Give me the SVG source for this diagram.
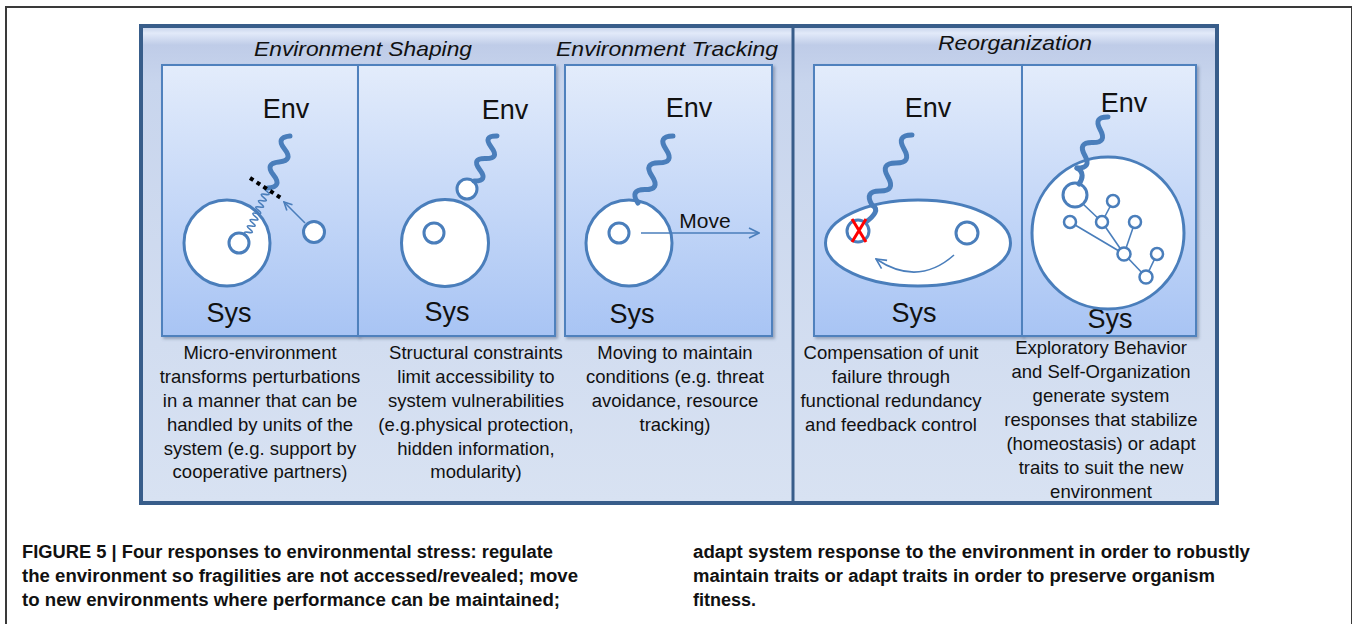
<svg xmlns="http://www.w3.org/2000/svg" width="1352" height="624" viewBox="0 0 1352 624">
<defs>
<linearGradient id="frameG" x1="0" y1="0" x2="0" y2="1">
<stop offset="0" stop-color="#c2cfe9"/>
<stop offset="0.015" stop-color="#e2eaf9"/>
<stop offset="0.04" stop-color="#bfcce8"/>
<stop offset="0.12" stop-color="#c8d5ed"/>
<stop offset="1" stop-color="#d8e2f2"/>
</linearGradient>
<linearGradient id="panelG" x1="0" y1="0" x2="0" y2="1">
<stop offset="0" stop-color="#e3ecfb"/>
<stop offset="1" stop-color="#a8c4f4"/>
</linearGradient>
<filter id="sh" x="-5%" y="-5%" width="115%" height="115%">
<feDropShadow dx="2" dy="2" stdDeviation="1.5" flood-color="#4a5a78" flood-opacity="0.45"/>
</filter>
<marker id="arr" viewBox="0 0 12 12" refX="11" refY="6" markerWidth="12" markerHeight="12" orient="auto" markerUnits="userSpaceOnUse">
<path d="M1,1 L11,6 L1,11" fill="none" stroke="#4a7ebb" stroke-width="1.6"/>
</marker>
<marker id="arrS" viewBox="0 0 10 10" refX="9" refY="5" markerWidth="10" markerHeight="10" orient="auto" markerUnits="userSpaceOnUse">
<path d="M1,1 L9,5 L1,9" fill="none" stroke="#4a7ebb" stroke-width="1.6"/>
</marker>
</defs>
<style>
.panel{fill:url(#panelG);stroke:#4f81bd;stroke-width:2;}
.circ{fill:#ffffff;stroke:#4a7ebb;stroke-width:3;}
.node{fill:#ffffff;stroke:#4a7ebb;stroke-width:2.5;}
.wave{fill:none;stroke:#4a7ebb;stroke-width:5;stroke-linecap:round;stroke-linejoin:round;}
.thin{fill:none;stroke:#4a7ebb;stroke-width:1.6;}
.big{font-family:"Liberation Sans",Arial,sans-serif;font-size:27px;fill:#111;text-anchor:middle;}
.head{font-family:"Liberation Sans",Arial,sans-serif;font-size:21px;font-style:italic;fill:#111;text-anchor:middle;}
.desc{font-family:"Liberation Sans",Arial,sans-serif;font-size:18.5px;fill:#111;text-anchor:middle;}
.cap{font-family:"Liberation Sans",Arial,sans-serif;font-size:18px;font-weight:bold;fill:#111;}
</style>
<rect x="0" y="0" width="1352" height="624" fill="#ffffff"/>
<rect x="6" y="7" width="1346" height="700" fill="none" stroke="#3a3a3a" stroke-width="2"/>

<g id="frame">
<rect x="141" y="26" width="1076" height="477" fill="url(#frameG)" stroke="#385d8a" stroke-width="4"/>
<line x1="793" y1="26" x2="793" y2="503" stroke="#385d8a" stroke-width="3"/>
<text class="head" x="363" y="56" textLength="218" lengthAdjust="spacingAndGlyphs">Environment Shaping</text>
<text class="head" x="667" y="56" textLength="222" lengthAdjust="spacingAndGlyphs">Environment Tracking</text>
<text class="head" x="1015" y="50" textLength="154" lengthAdjust="spacingAndGlyphs">Reorganization</text>
</g>

<g id="panel1">
<rect class="panel" x="162" y="65" width="196" height="271" filter="url(#sh)"/>
<text class="big" x="286" y="118">Env</text>
<text class="big" x="229" y="322">Sys</text>
<circle class="circ" cx="227" cy="243" r="43"/>
<circle class="circ" cx="239" cy="243" r="10"/>
<circle class="circ" cx="314" cy="232" r="10.5"/>
<text class="desc" x="260" y="359">Micro-environment</text>
<text class="desc" x="260" y="383">transforms perturbations</text>
<text class="desc" x="260" y="407">in a manner that can be</text>
<text class="desc" x="260" y="431">handled by units of the</text>
<text class="desc" x="260" y="455">system (e.g. support by</text>
<text class="desc" x="260" y="478">cooperative partners)</text>
</g>

<g id="panel2">
<rect class="panel" x="358" y="65" width="197" height="271" filter="url(#sh)"/>
<text class="big" x="505" y="119">Env</text>
<text class="big" x="447" y="321">Sys</text>
<circle class="circ" cx="445" cy="243" r="43.5"/>
<circle class="circ" cx="434" cy="233" r="10"/>
<circle class="circ" cx="467" cy="189" r="10"/>
<text class="desc" x="476" y="359">Structural constraints</text>
<text class="desc" x="476" y="383">limit accessibility to</text>
<text class="desc" x="476" y="407">system vulnerabilities</text>
<text class="desc" x="476" y="431">(e.g.physical protection,</text>
<text class="desc" x="476" y="455">hidden information,</text>
<text class="desc" x="476" y="478">modularity)</text>
</g>

<g id="panel3">
<rect class="panel" x="565" y="65" width="207" height="271" filter="url(#sh)"/>
<text class="big" x="689" y="117">Env</text>
<text class="big" x="632" y="323">Sys</text>
<circle class="circ" cx="629" cy="243" r="43"/>
<circle class="circ" cx="619" cy="233" r="10"/>
<text x="705" y="228" font-family="Liberation Sans, Arial, sans-serif" font-size="21" fill="#111" text-anchor="middle">Move</text>
<text class="desc" x="675" y="359">Moving to maintain</text>
<text class="desc" x="675" y="383">conditions (e.g. threat</text>
<text class="desc" x="675" y="407">avoidance, resource</text>
<text class="desc" x="675" y="431">tracking)</text>
</g>

<g id="panel4">
<rect class="panel" x="814" y="65" width="208" height="271" filter="url(#sh)"/>
<text class="big" x="928" y="117">Env</text>
<text class="big" x="914" y="322">Sys</text>
<ellipse class="circ" cx="918" cy="243" rx="92.5" ry="43"/>
<circle class="circ" cx="858" cy="231" r="11"/>
<circle class="circ" cx="967" cy="233" r="11"/>
<text class="desc" x="891" y="359">Compensation of unit</text>
<text class="desc" x="891" y="383">failure through</text>
<text class="desc" x="891" y="407">functional redundancy</text>
<text class="desc" x="891" y="431">and feedback control</text>
</g>

<g id="panel5">
<rect class="panel" x="1022" y="65" width="174" height="271" filter="url(#sh)"/>
<text class="big" x="1124" y="112">Env</text>
<text class="big" x="1110" y="328">Sys</text>
<circle class="circ" cx="1108" cy="233" r="76"/>
<g class="thin">
<line x1="1082" y1="203" x2="1102" y2="222"/>
<line x1="1113" y1="201" x2="1102" y2="222"/>
<line x1="1102" y1="222" x2="1124" y2="254"/>
<line x1="1070" y1="222" x2="1124" y2="254"/>
<line x1="1135" y1="222" x2="1124" y2="254"/>
<line x1="1124" y1="254" x2="1146" y2="277"/>
<line x1="1157" y1="254" x2="1146" y2="277"/>
</g>
<circle class="circ" cx="1075" cy="195" r="12"/>
<circle class="node" cx="1113" cy="201" r="6"/>
<circle class="node" cx="1070" cy="222" r="6"/>
<circle class="node" cx="1102" cy="222" r="6"/>
<circle class="node" cx="1135" cy="222" r="6"/>
<circle class="node" cx="1124" cy="254" r="6.5"/>
<circle class="node" cx="1157" cy="254" r="6"/>
<circle class="node" cx="1146" cy="277" r="6.5"/>
<text class="desc" x="1101" y="354">Exploratory Behavior</text>
<text class="desc" x="1101" y="378">and Self-Organization</text>
<text class="desc" x="1101" y="402">generate system</text>
<text class="desc" x="1101" y="426">responses that stabilize</text>
<text class="desc" x="1101" y="450">(homeostasis) or adapt</text>
<text class="desc" x="1101" y="474">traits to suit the new</text>
<text class="desc" x="1101" y="498">environment</text>
</g>

<g id="connectors">
<path class="wave" transform="translate(290,136) rotate(22.9)" d="M0,0 Q-13,7 0,14.1 T0,28.2 T0,42.4 T0,56.5"/>
<path class="thin" stroke-width="1.5" transform="translate(268,188) rotate(23.8)" d="M0,0 Q-7,1.73 0,3.47 T0,6.93 T0,10.4 T0,13.87 T0,17.33 T0,20.8 T0,24.27 T0,27.73 T0,31.2 T0,34.67 T0,38.13 T0,41.6 T0,45.07 T0,48.53 T0,52"/>
<line x1="250" y1="178" x2="281" y2="198" stroke="#000" stroke-width="4" stroke-dasharray="4,4"/>
<line class="thin" x1="305" y1="223" x2="284" y2="202" marker-end="url(#arrS)"/>
<path class="wave" transform="translate(497,136) rotate(27)" d="M0,0 Q-13,6.3 0,12.6 T0,25.25 T0,37.9 T0,50.5"/>
<path class="wave" transform="translate(673,136) rotate(27.6)" d="M0,0 Q-14,7.5 0,15.1 T0,30.2 T0,45.4 T0,60.5 T0,75.6"/>
<line class="thin" x1="641" y1="233" x2="759" y2="233" marker-end="url(#arr)"/>
<path class="wave" transform="translate(912,135) rotate(29.8)" d="M0,0 Q-14,8 0,16.1 T0,32.2 T0,48.4 T0,64.5 T0,80.6"/>
<path class="wave" d="M872,205 C880,209 874,216 866,222"/>
<path d="M852,219 L866,242 M866,219 L852,242" stroke="#ff0000" stroke-width="3" fill="none"/>
<path class="thin" d="M954,255 Q918,287 876,259" marker-end="url(#arr)"/>
<path class="wave" transform="translate(1108,117) rotate(31.3)" d="M0,0 Q-13,7.5 0,14.9 T0,29.85 T0,44.8 T0,59.7"/>
<path class="wave" d="M1077,168 C1084,172 1083,178 1079,184"/>
</g>

<g id="caption">
<text class="cap" x="22" y="558" textLength="531" lengthAdjust="spacingAndGlyphs">FIGURE 5 | Four responses to environmental stress: regulate</text>
<text class="cap" x="22" y="582" textLength="556" lengthAdjust="spacingAndGlyphs">the environment so fragilities are not accessed/revealed; move</text>
<text class="cap" x="22" y="606" textLength="538" lengthAdjust="spacingAndGlyphs">to new environments where performance can be maintained;</text>
<text class="cap" x="693" y="558" textLength="557" lengthAdjust="spacingAndGlyphs">adapt system response to the environment in order to robustly</text>
<text class="cap" x="693" y="582" textLength="522" lengthAdjust="spacingAndGlyphs">maintain traits or adapt traits in order to preserve organism</text>
<text class="cap" x="693" y="606">fitness.</text>
</g>
</svg>
